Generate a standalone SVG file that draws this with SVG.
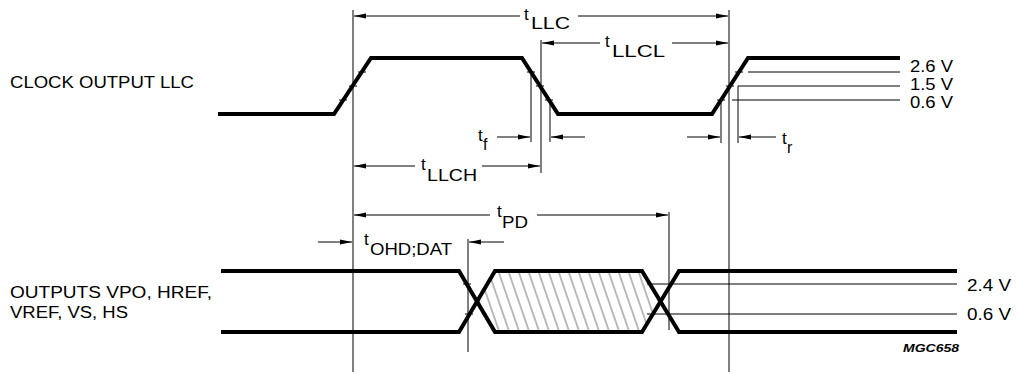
<svg xmlns="http://www.w3.org/2000/svg" width="1017" height="375" viewBox="0 0 1017 375">
<style>
text{font-family:"Liberation Sans",Arial,sans-serif;font-size:16px;fill:#000}
.t{font-size:17px}
.wave{fill:none;stroke:#000;stroke-width:4;stroke-linejoin:miter}
.thin{fill:none;stroke:#000;stroke-width:1}
.dim{fill:none;stroke:#000;stroke-width:1;marker-end:url(#ah)}
.tick{stroke:#000;stroke-width:1}
.code{font-size:10px;font-weight:bold;font-style:italic}
</style>
<defs>
<marker id="ah" viewBox="0 0 12 6" refX="12" refY="3" markerWidth="12" markerHeight="6" markerUnits="userSpaceOnUse" orient="auto">
<path d="M0,0.6 L12,3 L0,5.4 z" fill="#000"/>
</marker>
<pattern id="hatch" patternUnits="userSpaceOnUse" width="10" height="10" patternTransform="skewX(19)">
<line x1="5" y1="0" x2="5" y2="10" stroke="#555" stroke-width="0.8"/>
</pattern>
</defs>
<rect width="1017" height="375" fill="#fff"/>

<g id="labels">
<text x="10" y="88" textLength="184" lengthAdjust="spacingAndGlyphs">CLOCK OUTPUT LLC</text>
<text x="10" y="298" textLength="202" lengthAdjust="spacingAndGlyphs">OUTPUTS VPO, HREF,</text>
<text x="10" y="318" textLength="118" lengthAdjust="spacingAndGlyphs">VREF, VS, HS</text>
</g>

<g id="clock">
<path class="wave" d="M218,114 H334 L371,58 H522 L558,114 H712 L748,58 H900"/>
<line class="thin" x1="748" y1="72" x2="900" y2="72"/>
<line class="thin" x1="738" y1="86" x2="900" y2="86"/>
<line class="thin" x1="732" y1="100" x2="900" y2="100"/>
<text x="910" y="72" textLength="43" lengthAdjust="spacingAndGlyphs">2.6 V</text>
<text x="910" y="90" textLength="43" lengthAdjust="spacingAndGlyphs">1.5 V</text>
<text x="910" y="108" textLength="43" lengthAdjust="spacingAndGlyphs">0.6 V</text>
<g class="tick">
<line x1="358" y1="72" x2="366" y2="72"/><line x1="349" y1="86" x2="357" y2="86"/><line x1="339" y1="100" x2="347" y2="100"/>
<line x1="527" y1="72" x2="535" y2="72"/><line x1="536" y1="86" x2="544" y2="86"/><line x1="545" y1="100" x2="553" y2="100"/>
<line x1="717" y1="100" x2="725" y2="100"/><line x1="726" y1="86" x2="734" y2="86"/><line x1="735" y1="72" x2="743" y2="72"/>
</g>
</g>

<g id="outputs">
<polygon points="477,301.5 495,271 642,271 660.5,301.5 642,332 495,332" fill="url(#hatch)" stroke="none"/>
<path class="wave" d="M221,271 H459 L495,332 H642 L679,271 H957"/>
<path class="wave" d="M221,332 H459 L495,271 H642 L679,332 H957"/>
<line class="thin" x1="647" y1="284" x2="957" y2="284"/>
<line class="thin" x1="647" y1="314" x2="957" y2="314"/>
<text x="967" y="291" textLength="44" lengthAdjust="spacingAndGlyphs">2.4 V</text>
<text x="967" y="320" textLength="44" lengthAdjust="spacingAndGlyphs">0.6 V</text>
<g class="tick">
<line x1="463" y1="284" x2="471" y2="284"/><line x1="465" y1="314" x2="473" y2="314"/>
</g>
<text class="code" x="903" y="352" textLength="56" lengthAdjust="spacingAndGlyphs">MGC658</text>
</g>

<g id="connectors">
<line class="thin" x1="353" y1="10" x2="353" y2="372"/>
<line class="thin" x1="729" y1="10" x2="729" y2="372"/>
<line class="thin" x1="541" y1="40" x2="541" y2="173"/>
<line class="thin" x1="531" y1="75" x2="531" y2="142"/>
<line class="thin" x1="550" y1="100" x2="550" y2="142"/>
<line class="thin" x1="721" y1="100" x2="721" y2="143"/>
<line class="thin" x1="738" y1="86" x2="738" y2="143"/>
<line class="thin" x1="468" y1="239" x2="468" y2="352"/>
<line class="thin" x1="669" y1="212" x2="669" y2="330"/>

<line class="dim" x1="520" y1="16" x2="354" y2="16"/>
<line class="dim" x1="578" y1="16" x2="728" y2="16"/>
<line class="dim" x1="600" y1="43" x2="542" y2="43"/>
<line class="dim" x1="672" y1="43" x2="728" y2="43"/>
<line class="dim" x1="415" y1="166" x2="354" y2="166"/>
<line class="dim" x1="482" y1="166" x2="540" y2="166"/>
<line class="dim" x1="497" y1="137" x2="530" y2="137"/>
<line class="dim" x1="585" y1="137" x2="551" y2="137"/>
<line class="dim" x1="687" y1="137" x2="720" y2="137"/>
<line class="dim" x1="776" y1="137" x2="739" y2="137"/>
<line class="dim" x1="490" y1="215" x2="354" y2="215"/>
<line class="dim" x1="537" y1="215" x2="668" y2="215"/>
<line class="dim" x1="318" y1="242" x2="352" y2="242"/>
<line class="dim" x1="504" y1="242" x2="469" y2="242"/>
</g>

<g id="timing-labels">
<text class="t" x="524" y="20">t</text><text x="531" y="29" textLength="39" lengthAdjust="spacingAndGlyphs">LLC</text>
<text class="t" x="605" y="47">t</text><text x="612" y="57" textLength="53" lengthAdjust="spacingAndGlyphs">LLCL</text>
<text class="t" x="421" y="170">t</text><text x="427" y="181" textLength="50" lengthAdjust="spacingAndGlyphs">LLCH</text>
<text class="t" x="478" y="141">t</text><text x="483" y="150">f</text>
<text class="t" x="782" y="144">t</text><text x="787" y="153">r</text>
<text class="t" x="497" y="217">t</text><text x="502" y="228" textLength="26" lengthAdjust="spacingAndGlyphs">PD</text>
<text class="t" x="364" y="245">t</text><text x="370" y="255" textLength="82" lengthAdjust="spacingAndGlyphs">OHD;DAT</text>
</g>
</svg>
